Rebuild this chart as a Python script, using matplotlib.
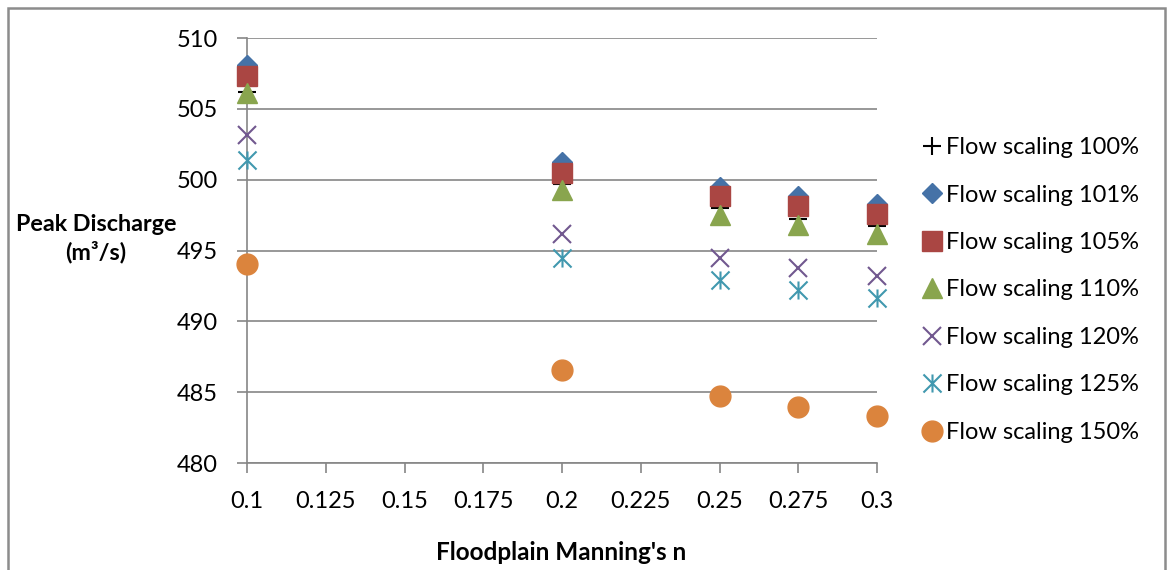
import numpy as np
import matplotlib
matplotlib.use("Agg")
import matplotlib.pyplot as plt
from matplotlib.path import Path
from matplotlib.patches import Rectangle

plt.rcParams['font.family'] = ['Lato', 'DejaVu Sans']

n_values = [0.1, 0.2, 0.25, 0.275, 0.3]

q100 = [506.2, 499.7, 498.0, 497.25, 496.7]
q101 = [508.1, 501.25, 499.5, 498.85, 498.3]
q105 = [507.3, 500.5, 498.85, 498.15, 497.6]
q110 = [506.1, 499.3, 497.5, 496.8, 496.2]
q120 = [503.15, 496.2, 494.45, 493.8, 493.2]
q125 = [501.4, 494.5, 492.9, 492.2, 491.65]
q150 = [494.05, 486.6, 484.7, 483.95, 483.3]

labels = ['Flow scaling 100%', 'Flow scaling 101%', 'Flow scaling 105%',
          'Flow scaling 110%', 'Flow scaling 120%', 'Flow scaling 125%',
          'Flow scaling 150%']

x_ticks = [0.1, 0.125, 0.15, 0.175, 0.2, 0.225, 0.25, 0.275, 0.3]
x_tick_labels = ['0.1', '0.125', '0.15', '0.175', '0.2', '0.225', '0.25', '0.275', '0.3']
y_ticks = [480, 485, 490, 495, 500, 505, 510]

# excel style asterisk: vertical bar plus an X
star = Path([(0, -1), (0, 1), (-1, -1), (1, 1), (-1, 1), (1, -1)],
            [Path.MOVETO, Path.LINETO, Path.MOVETO, Path.LINETO, Path.MOVETO, Path.LINETO])

fig = plt.figure(figsize=(11.68, 5.7), dpi=100)
ax = fig.add_axes([0.2115, 0.1877, 0.5394, 0.7456])

ax.plot(n_values, q100, linestyle='none', marker='+', markersize=13, mew=1.5, color='black', label=labels[0], clip_on=False)
ax.plot(n_values, q101, linestyle='none', marker='D', markersize=10.5, color='#4572A7', mec='#4572A7', label=labels[1], clip_on=False)
ax.plot(n_values, q105, linestyle='none', marker='s', markersize=14.5, color='#AA4643', mec='#AA4643', label=labels[2], clip_on=False)
ax.plot(n_values, q110, linestyle='none', marker='^', markersize=14.5, color='#89A54E', mec='#89A54E', label=labels[3], clip_on=False)
ax.plot(n_values, q120, linestyle='none', marker='x', markersize=13, mew=1.5, color='#71588F', label=labels[4], clip_on=False)
ax.plot(n_values, q125, linestyle='none', marker=star, markersize=13, mew=1.5, color='#4198AF', label=labels[5], clip_on=False)
ax.plot(n_values, q150, linestyle='none', marker='o', markersize=15, color='#DB843D', mec='#DB843D', label=labels[6], clip_on=False)

ax.set_xlim(0.1, 0.3)
ax.set_ylim(480, 510)
ax.set_xticks(x_ticks)
ax.set_xticklabels(x_tick_labels)
ax.set_yticks(y_ticks)
ax.tick_params(axis='both', labelsize=17, length=7, width=1.2, color='#868686', direction='out')
ax.tick_params(axis='x', pad=13)
ax.tick_params(axis='y', pad=14)

ax.grid(axis='y', color='#868686', linewidth=1.2)
ax.set_axisbelow(True)
for s in ['top', 'right']:
    ax.spines[s].set_visible(False)
for s in ['left', 'bottom']:
    ax.spines[s].set_color('#868686')
    ax.spines[s].set_linewidth(1.2)
    ax.spines[s].set_zorder(0.5)

fig.text(96 / 1168, 1 - 239 / 570, 'Peak Discharge\n(m\u00b3/s)', fontsize=16.8, fontweight='bold',
         ha='center', va='center', linespacing=1.3)
fig.text(561 / 1168, 1 - 553 / 570, "Floodplain Manning's n", fontsize=17.5, fontweight='bold',
         ha='center', va='center')

leg = fig.legend(loc='center left', bbox_to_anchor=(912 / 1168, 1 - 290 / 570), frameon=False,
                 fontsize=17, labelspacing=1.12, handlelength=0.9, handletextpad=0.15,
                 borderaxespad=0)

# chart area border (bottom edge runs off the image)
fig.patches.append(Rectangle((8 / 1168, -0.05), 1157 / 1168, 1.05 - 8 / 570, transform=fig.transFigure,
                             fill=False, edgecolor='#8c8c8c', linewidth=1.8))

fig.savefig('out.png', dpi=100)
